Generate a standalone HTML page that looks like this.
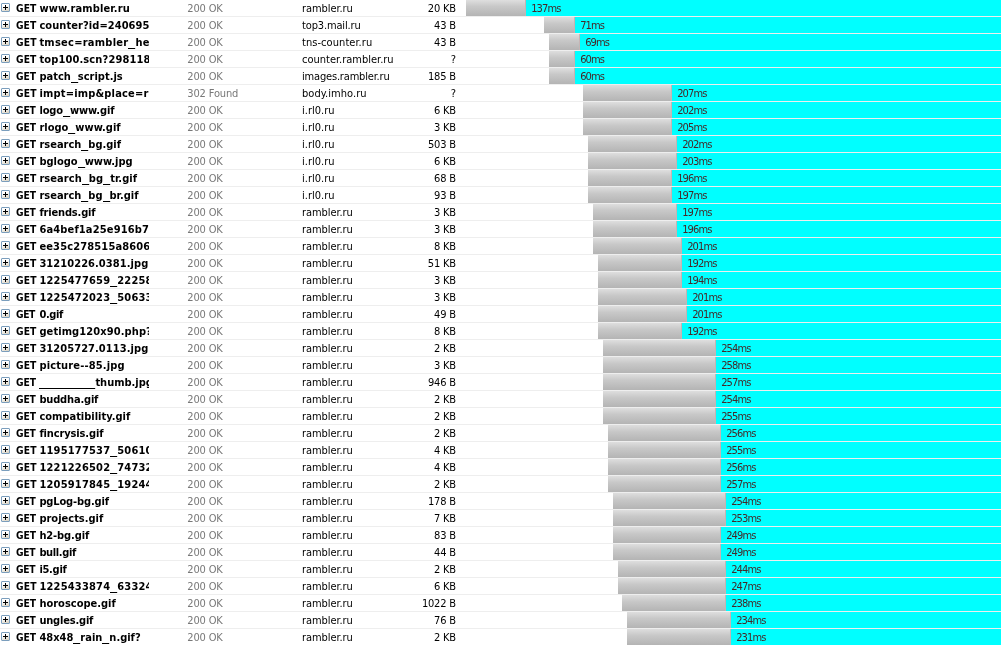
<!DOCTYPE html><html><head><meta charset="utf-8"><title>Net</title><style>
html,body{margin:0;padding:0;background:#fff;}
body{width:1001px;height:645px;overflow:hidden;position:relative;font-family:"DejaVu Sans Condensed","Liberation Sans",sans-serif;font-size:11px;color:#000;}
.r{position:absolute;left:0;width:1001px;height:16px;border-bottom:1px solid #eeeeee;line-height:18px;white-space:nowrap;}
.r>*{position:absolute;top:0;height:16px;}
.i{left:1px;top:3px;width:7px;height:7px;border:1px solid #7b9ebd;border-radius:1px;background:linear-gradient(160deg,#fff 35%,#d6cebc 100%);}
.i:before{content:"";position:absolute;left:1px;top:3px;width:5px;height:1px;background:#000;}
.i:after{content:"";position:absolute;left:3px;top:1px;width:1px;height:5px;background:#000;}
.u{left:16px;width:133px;overflow:hidden;font-weight:bold;}
.s{left:187.3px;color:#787878;letter-spacing:-0.15px;}
.d{left:302px;}
.z{left:400px;width:56px;text-align:right;letter-spacing:-0.2px;margin-left:-0.2px;}
.g{background:linear-gradient(#dedede 0%,#c8c8c8 40%,#b4b4b4 100%);border-right:1px solid #c6b4b4;box-sizing:border-box;}
.c{background:#00ffff;right:0;}
.l{color:#452828;letter-spacing:-0.88px;margin-left:0.2px;}
.m{display:inline-block;width:23.4px;vertical-align:top;}
.m>i{display:block;font-style:normal;transform:scaleX(.93);transform-origin:0 0;white-space:pre;margin-left:-0.4px;}
.k{display:inline-block;width:7px;}
.k>i{display:block;font-style:normal;transform:scaleX(1.45);transform-origin:0 0;}
</style></head><body>
<div class="r" style="top:0px"><span class="i"></span><span class="u" style="letter-spacing:0.14px"><span class="m"><i>GET </i></span>www.rambler.ru</span><span class="s">200 OK</span><span class="d" style="letter-spacing:-0.08px">rambler.ru</span><span class="z">20 KB</span><span class="g" style="left:466px;width:60px"></span><span class="c" style="left:526px"></span><span class="l" style="left:531px">137ms</span></div>
<div class="r" style="top:17px"><span class="i"></span><span class="u" style="letter-spacing:0.07px"><span class="m"><i>GET </i></span>counter?id=2406951</span><span class="s">200 OK</span><span class="d" style="letter-spacing:-0.15px">top3.mail.ru</span><span class="z">43 B</span><span class="g" style="left:544px;width:31px"></span><span class="c" style="left:575px"></span><span class="l" style="left:580px">71ms</span></div>
<div class="r" style="top:34px"><span class="i"></span><span class="u" style="letter-spacing:0.25px"><span class="m"><i>GET </i></span>tmsec=rambler<span class="k"><i>_</i></span>head</span><span class="s">200 OK</span><span class="d" style="letter-spacing:0.06px">tns-counter.ru</span><span class="z">43 B</span><span class="g" style="left:549px;width:31px"></span><span class="c" style="left:580px"></span><span class="l" style="left:585px">69ms</span></div>
<div class="r" style="top:51px"><span class="i"></span><span class="u" style="letter-spacing:0.13px"><span class="m"><i>GET </i></span>top100.scn?2981184</span><span class="s">200 OK</span><span class="d">counter.rambler.ru</span><span class="z">?</span><span class="g" style="left:549px;width:26px"></span><span class="c" style="left:575px"></span><span class="l" style="left:580px">60ms</span></div>
<div class="r" style="top:68px"><span class="i"></span><span class="u"><span class="m"><i>GET </i></span>patch<span class="k"><i>_</i></span>script.js</span><span class="s">200 OK</span><span class="d" style="letter-spacing:-0.18px">images.rambler.ru</span><span class="z">185 B</span><span class="g" style="left:549px;width:26px"></span><span class="c" style="left:575px"></span><span class="l" style="left:580px">60ms</span></div>
<div class="r" style="top:85px"><span class="i"></span><span class="u" style="letter-spacing:0.19px"><span class="m"><i>GET </i></span>impt=imp&amp;place=ra</span><span class="s">302 Found</span><span class="d" style="letter-spacing:0.05px">body.imho.ru</span><span class="z">?</span><span class="g" style="left:583px;width:89px"></span><span class="c" style="left:672px"></span><span class="l" style="left:677px">207ms</span></div>
<div class="r" style="top:102px"><span class="i"></span><span class="u" style="letter-spacing:-0.12px"><span class="m"><i>GET </i></span>logo<span class="k"><i>_</i></span>www.gif</span><span class="s">200 OK</span><span class="d">i.rl0.ru</span><span class="z">6 KB</span><span class="g" style="left:583px;width:89px"></span><span class="c" style="left:672px"></span><span class="l" style="left:677px">202ms</span></div>
<div class="r" style="top:119px"><span class="i"></span><span class="u"><span class="m"><i>GET </i></span>rlogo<span class="k"><i>_</i></span>www.gif</span><span class="s">200 OK</span><span class="d">i.rl0.ru</span><span class="z">3 KB</span><span class="g" style="left:583px;width:89px"></span><span class="c" style="left:672px"></span><span class="l" style="left:677px">205ms</span></div>
<div class="r" style="top:136px"><span class="i"></span><span class="u"><span class="m"><i>GET </i></span>rsearch<span class="k"><i>_</i></span>bg.gif</span><span class="s">200 OK</span><span class="d">i.rl0.ru</span><span class="z">503 B</span><span class="g" style="left:588px;width:89px"></span><span class="c" style="left:677px"></span><span class="l" style="left:682px">202ms</span></div>
<div class="r" style="top:153px"><span class="i"></span><span class="u"><span class="m"><i>GET </i></span>bglogo<span class="k"><i>_</i></span>www.jpg</span><span class="s">200 OK</span><span class="d">i.rl0.ru</span><span class="z">6 KB</span><span class="g" style="left:588px;width:89px"></span><span class="c" style="left:677px"></span><span class="l" style="left:682px">203ms</span></div>
<div class="r" style="top:170px"><span class="i"></span><span class="u" style="letter-spacing:0.07px"><span class="m"><i>GET </i></span>rsearch<span class="k"><i>_</i></span>bg<span class="k"><i>_</i></span>tr.gif</span><span class="s">200 OK</span><span class="d">i.rl0.ru</span><span class="z">68 B</span><span class="g" style="left:588px;width:84px"></span><span class="c" style="left:672px"></span><span class="l" style="left:677px">196ms</span></div>
<div class="r" style="top:187px"><span class="i"></span><span class="u"><span class="m"><i>GET </i></span>rsearch<span class="k"><i>_</i></span>bg<span class="k"><i>_</i></span>br.gif</span><span class="s">200 OK</span><span class="d">i.rl0.ru</span><span class="z">93 B</span><span class="g" style="left:588px;width:84px"></span><span class="c" style="left:672px"></span><span class="l" style="left:677px">197ms</span></div>
<div class="r" style="top:204px"><span class="i"></span><span class="u" style="letter-spacing:-0.16px"><span class="m"><i>GET </i></span>friends.gif</span><span class="s">200 OK</span><span class="d" style="letter-spacing:-0.08px">rambler.ru</span><span class="z">3 KB</span><span class="g" style="left:593px;width:84px"></span><span class="c" style="left:677px"></span><span class="l" style="left:682px">197ms</span></div>
<div class="r" style="top:221px"><span class="i"></span><span class="u" style="letter-spacing:0.15px"><span class="m"><i>GET </i></span>6a4bef1a25e916b7</span><span class="s">200 OK</span><span class="d" style="letter-spacing:-0.08px">rambler.ru</span><span class="z">3 KB</span><span class="g" style="left:593px;width:84px"></span><span class="c" style="left:677px"></span><span class="l" style="left:682px">196ms</span></div>
<div class="r" style="top:238px"><span class="i"></span><span class="u" style="letter-spacing:0.15px"><span class="m"><i>GET </i></span>ee35c278515a8606</span><span class="s">200 OK</span><span class="d" style="letter-spacing:-0.08px">rambler.ru</span><span class="z">8 KB</span><span class="g" style="left:593px;width:89px"></span><span class="c" style="left:682px"></span><span class="l" style="left:687px">201ms</span></div>
<div class="r" style="top:255px"><span class="i"></span><span class="u" style="letter-spacing:0.07px"><span class="m"><i>GET </i></span>31210226.0381.jpg</span><span class="s">200 OK</span><span class="d" style="letter-spacing:-0.08px">rambler.ru</span><span class="z">51 KB</span><span class="g" style="left:598px;width:84px"></span><span class="c" style="left:682px"></span><span class="l" style="left:687px">192ms</span></div>
<div class="r" style="top:272px"><span class="i"></span><span class="u" style="letter-spacing:0.2px"><span class="m"><i>GET </i></span>1225477659<span class="k"><i>_</i></span>22258</span><span class="s">200 OK</span><span class="d" style="letter-spacing:-0.08px">rambler.ru</span><span class="z">3 KB</span><span class="g" style="left:598px;width:84px"></span><span class="c" style="left:682px"></span><span class="l" style="left:687px">194ms</span></div>
<div class="r" style="top:289px"><span class="i"></span><span class="u" style="letter-spacing:0.2px"><span class="m"><i>GET </i></span>1225472023<span class="k"><i>_</i></span>50633</span><span class="s">200 OK</span><span class="d" style="letter-spacing:-0.08px">rambler.ru</span><span class="z">3 KB</span><span class="g" style="left:598px;width:89px"></span><span class="c" style="left:687px"></span><span class="l" style="left:692px">201ms</span></div>
<div class="r" style="top:306px"><span class="i"></span><span class="u" style="letter-spacing:-0.4px"><span class="m"><i>GET </i></span>0.gif</span><span class="s">200 OK</span><span class="d" style="letter-spacing:-0.08px">rambler.ru</span><span class="z">49 B</span><span class="g" style="left:598px;width:89px"></span><span class="c" style="left:687px"></span><span class="l" style="left:692px">201ms</span></div>
<div class="r" style="top:323px"><span class="i"></span><span class="u" style="letter-spacing:0.1px"><span class="m"><i>GET </i></span>getimg120x90.php?</span><span class="s">200 OK</span><span class="d" style="letter-spacing:-0.08px">rambler.ru</span><span class="z">8 KB</span><span class="g" style="left:598px;width:84px"></span><span class="c" style="left:682px"></span><span class="l" style="left:687px">192ms</span></div>
<div class="r" style="top:340px"><span class="i"></span><span class="u" style="letter-spacing:0.07px"><span class="m"><i>GET </i></span>31205727.0113.jpg</span><span class="s">200 OK</span><span class="d" style="letter-spacing:-0.08px">rambler.ru</span><span class="z">2 KB</span><span class="g" style="left:603px;width:113px"></span><span class="c" style="left:716px"></span><span class="l" style="left:721px">254ms</span></div>
<div class="r" style="top:357px"><span class="i"></span><span class="u" style="letter-spacing:0.15px"><span class="m"><i>GET </i></span>picture--85.jpg</span><span class="s">200 OK</span><span class="d" style="letter-spacing:-0.08px">rambler.ru</span><span class="z">3 KB</span><span class="g" style="left:603px;width:113px"></span><span class="c" style="left:716px"></span><span class="l" style="left:721px">258ms</span></div>
<div class="r" style="top:374px"><span class="i"></span><span class="u"><span class="m"><i>GET </i></span><span class="k"><i>_</i></span><span class="k"><i>_</i></span><span class="k"><i>_</i></span><span class="k"><i>_</i></span><span class="k"><i>_</i></span><span class="k"><i>_</i></span><span class="k"><i>_</i></span><span class="k"><i>_</i></span>thumb.jpg</span><span class="s">200 OK</span><span class="d" style="letter-spacing:-0.08px">rambler.ru</span><span class="z">946 B</span><span class="g" style="left:603px;width:113px"></span><span class="c" style="left:716px"></span><span class="l" style="left:721px">257ms</span></div>
<div class="r" style="top:391px"><span class="i"></span><span class="u" style="letter-spacing:-0.17px"><span class="m"><i>GET </i></span>buddha.gif</span><span class="s">200 OK</span><span class="d" style="letter-spacing:-0.08px">rambler.ru</span><span class="z">2 KB</span><span class="g" style="left:603px;width:113px"></span><span class="c" style="left:716px"></span><span class="l" style="left:721px">254ms</span></div>
<div class="r" style="top:408px"><span class="i"></span><span class="u"><span class="m"><i>GET </i></span>compatibility.gif</span><span class="s">200 OK</span><span class="d" style="letter-spacing:-0.08px">rambler.ru</span><span class="z">2 KB</span><span class="g" style="left:603px;width:113px"></span><span class="c" style="left:716px"></span><span class="l" style="left:721px">255ms</span></div>
<div class="r" style="top:425px"><span class="i"></span><span class="u" style="letter-spacing:-0.13px"><span class="m"><i>GET </i></span>fincrysis.gif</span><span class="s">200 OK</span><span class="d" style="letter-spacing:-0.08px">rambler.ru</span><span class="z">2 KB</span><span class="g" style="left:608px;width:113px"></span><span class="c" style="left:721px"></span><span class="l" style="left:726px">256ms</span></div>
<div class="r" style="top:442px"><span class="i"></span><span class="u" style="letter-spacing:0.2px"><span class="m"><i>GET </i></span>1195177537<span class="k"><i>_</i></span>50610</span><span class="s">200 OK</span><span class="d" style="letter-spacing:-0.08px">rambler.ru</span><span class="z">4 KB</span><span class="g" style="left:608px;width:113px"></span><span class="c" style="left:721px"></span><span class="l" style="left:726px">255ms</span></div>
<div class="r" style="top:459px"><span class="i"></span><span class="u" style="letter-spacing:0.2px"><span class="m"><i>GET </i></span>1221226502<span class="k"><i>_</i></span>74732</span><span class="s">200 OK</span><span class="d" style="letter-spacing:-0.08px">rambler.ru</span><span class="z">4 KB</span><span class="g" style="left:608px;width:113px"></span><span class="c" style="left:721px"></span><span class="l" style="left:726px">256ms</span></div>
<div class="r" style="top:476px"><span class="i"></span><span class="u" style="letter-spacing:0.2px"><span class="m"><i>GET </i></span>1205917845<span class="k"><i>_</i></span>19244</span><span class="s">200 OK</span><span class="d" style="letter-spacing:-0.08px">rambler.ru</span><span class="z">2 KB</span><span class="g" style="left:608px;width:113px"></span><span class="c" style="left:721px"></span><span class="l" style="left:726px">257ms</span></div>
<div class="r" style="top:493px"><span class="i"></span><span class="u" style="letter-spacing:-0.14px"><span class="m"><i>GET </i></span>pgLog-bg.gif</span><span class="s">200 OK</span><span class="d" style="letter-spacing:-0.08px">rambler.ru</span><span class="z">178 B</span><span class="g" style="left:613px;width:113px"></span><span class="c" style="left:726px"></span><span class="l" style="left:731px">254ms</span></div>
<div class="r" style="top:510px"><span class="i"></span><span class="u"><span class="m"><i>GET </i></span>projects.gif</span><span class="s">200 OK</span><span class="d" style="letter-spacing:-0.08px">rambler.ru</span><span class="z">7 KB</span><span class="g" style="left:613px;width:113px"></span><span class="c" style="left:726px"></span><span class="l" style="left:731px">253ms</span></div>
<div class="r" style="top:527px"><span class="i"></span><span class="u" style="letter-spacing:-0.11px"><span class="m"><i>GET </i></span>h2-bg.gif</span><span class="s">200 OK</span><span class="d" style="letter-spacing:-0.08px">rambler.ru</span><span class="z">83 B</span><span class="g" style="left:613px;width:108px"></span><span class="c" style="left:721px"></span><span class="l" style="left:726px">249ms</span></div>
<div class="r" style="top:544px"><span class="i"></span><span class="u" style="letter-spacing:-0.37px"><span class="m"><i>GET </i></span>bull.gif</span><span class="s">200 OK</span><span class="d" style="letter-spacing:-0.08px">rambler.ru</span><span class="z">44 B</span><span class="g" style="left:613px;width:108px"></span><span class="c" style="left:721px"></span><span class="l" style="left:726px">249ms</span></div>
<div class="r" style="top:561px"><span class="i"></span><span class="u" style="letter-spacing:-0.28px"><span class="m"><i>GET </i></span>i5.gif</span><span class="s">200 OK</span><span class="d" style="letter-spacing:-0.08px">rambler.ru</span><span class="z">2 KB</span><span class="g" style="left:618px;width:108px"></span><span class="c" style="left:726px"></span><span class="l" style="left:731px">244ms</span></div>
<div class="r" style="top:578px"><span class="i"></span><span class="u" style="letter-spacing:0.2px"><span class="m"><i>GET </i></span>1225433874<span class="k"><i>_</i></span>63324</span><span class="s">200 OK</span><span class="d" style="letter-spacing:-0.08px">rambler.ru</span><span class="z">6 KB</span><span class="g" style="left:618px;width:108px"></span><span class="c" style="left:726px"></span><span class="l" style="left:731px">247ms</span></div>
<div class="r" style="top:595px"><span class="i"></span><span class="u"><span class="m"><i>GET </i></span>horoscope.gif</span><span class="s">200 OK</span><span class="d" style="letter-spacing:-0.08px">rambler.ru</span><span class="z">1022 B</span><span class="g" style="left:622px;width:104px"></span><span class="c" style="left:726px"></span><span class="l" style="left:731px">238ms</span></div>
<div class="r" style="top:612px"><span class="i"></span><span class="u" style="letter-spacing:-0.19px"><span class="m"><i>GET </i></span>ungles.gif</span><span class="s">200 OK</span><span class="d" style="letter-spacing:-0.08px">rambler.ru</span><span class="z">76 B</span><span class="g" style="left:627px;width:104px"></span><span class="c" style="left:731px"></span><span class="l" style="left:736px">234ms</span></div>
<div class="r" style="top:629px"><span class="i"></span><span class="u"><span class="m"><i>GET </i></span>48x48<span class="k"><i>_</i></span>rain<span class="k"><i>_</i></span>n.gif?</span><span class="s">200 OK</span><span class="d" style="letter-spacing:-0.08px">rambler.ru</span><span class="z">2 KB</span><span class="g" style="left:627px;width:104px"></span><span class="c" style="left:731px"></span><span class="l" style="left:736px">231ms</span></div>
</body></html>
